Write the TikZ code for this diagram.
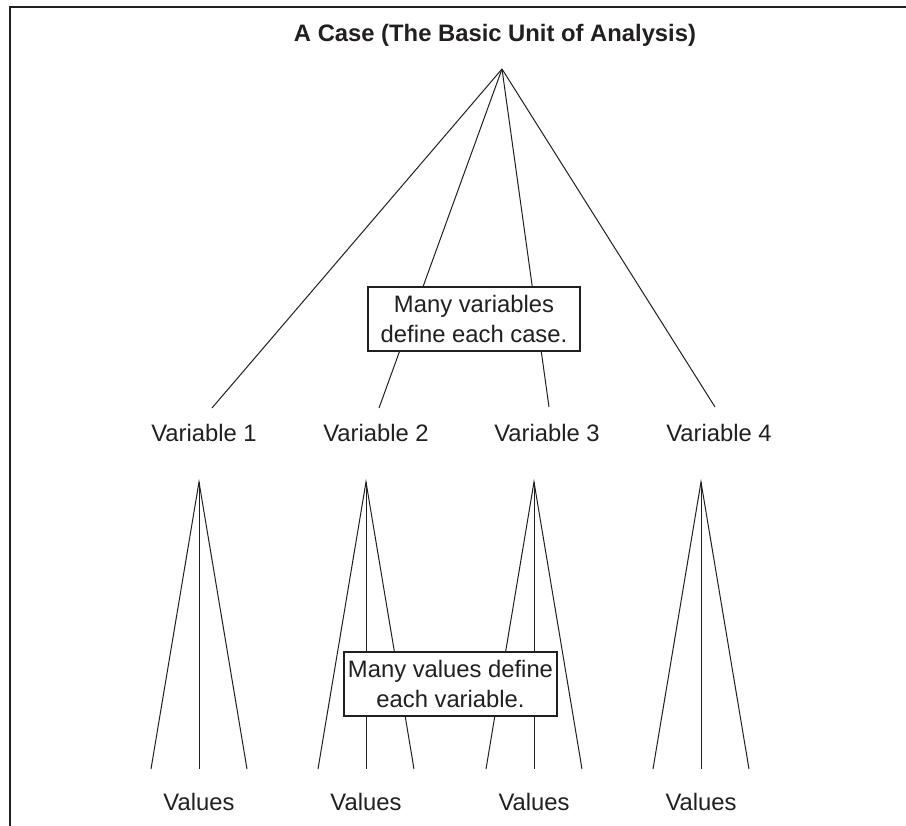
\documentclass[tikz,border=0pt]{standalone}
\usepackage{fontspec}
\setmainfont{Liberation Sans}
\definecolor{ink}{HTML}{231F20}
\tikzset{
  lab/.style={font=\fontsize{23.8}{30}\selectfont, inner sep=0pt, anchor=base, text=ink},
  ttl/.style={font=\fontsize{23.8}{30}\selectfont\bfseries, inner sep=0pt, anchor=base, text=ink},
  note/.style={draw=ink, fill=white, line width=1.3pt, align=center, inner sep=2pt,
    font=\fontsize{23.8}{30}\selectfont, text=ink, minimum height=64pt},
  conn/.style={draw=ink, line width=1pt},
}
\begin{document}
\begin{tikzpicture}[x=1pt,y=-1pt]
\useasboundingbox (0,0) rectangle (906,826);
\fill[white] (0,0) rectangle (906,826);
% frame (top and left only)
\coordinate (fbl) at (9.5,826);
\coordinate (ftl) at (9.5,7);
\coordinate (ftr) at (906,7);
\draw[ink, line width=2pt] (fbl) -- (ftl) -- (ftr);

\node[ttl] (title) at (495,41.7) {A Case (The Basic Unit of Analysis)};
\coordinate (apex) at (502,69);
\coordinate (e1) at (212,408);
\coordinate (e2) at (379,408);
\coordinate (e3) at (549,407);
\coordinate (e4) at (715,407);
\foreach \i in {1,2,3,4} \draw[conn] (apex) -- (e\i);

\node[lab] (v1) at (204,442) {Variable 1};
\node[lab] (v2) at (376,442) {Variable 2};
\node[lab] (v3) at (547,442) {Variable 3};
\node[lab] (v4) at (719,442) {Variable 4};

% lower fans
\foreach \i/\x in {1/199,2/366,3/534,4/701}{
  \coordinate (a\i) at (\x,482);
  \coordinate (l\i) at (\x-48,769);
  \coordinate (m\i) at (\x,769);
  \coordinate (r\i) at (\x+48,769);
  \draw[conn] (l\i) -- (a\i) -- (r\i);
  \draw[conn] (a\i) -- (m\i);
  \node[lab] (val\i) at (\x,810) {Values};
}

\node[note, minimum width=212pt] (box1) at (474,319) {Many variables\\define each case.};
\node[note, minimum width=213pt] (box2) at (450.5,684) {Many values define\\each variable.};
\end{tikzpicture}
\end{document}
